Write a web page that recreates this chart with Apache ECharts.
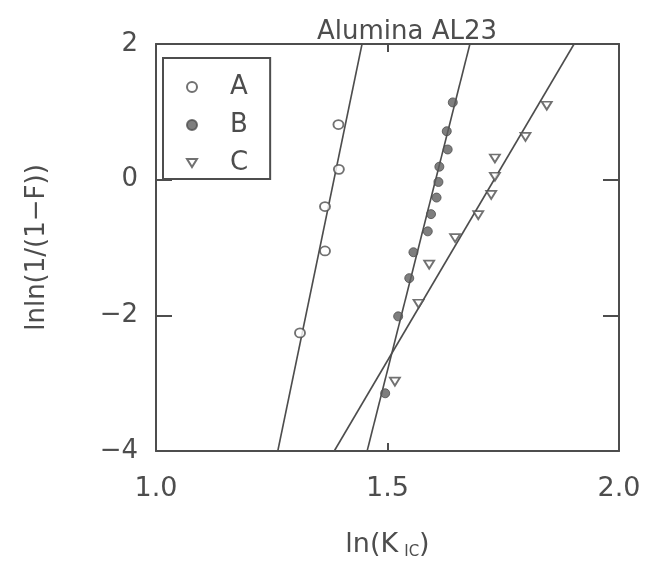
<!DOCTYPE html>
<html>
<head>
<meta charset="utf-8">
<script src="https://cdn.jsdelivr.net/npm/echarts@6/dist/echarts.min.js"></script>
<style>
html,body{margin:0;padding:0;background:#fff;}
#chart{width:645px;height:565px;}
</style>
</head>
<body>
<div id="chart"></div>
<script>
// ---- data ----
const titleText = "Alumina AL23";
const xTickValues = [1.0, 1.5, 2.0];
const yTickValues = [-4, -2, 0, 2];

const seriesA = [
  [1.394, 0.812], [1.395, 0.152], [1.365, -0.396], [1.365, -1.051], [1.311, -2.259]
];
const seriesB = [
  [1.641, 1.139], [1.628, 0.714], [1.630, 0.445], [1.612, 0.191], [1.610, -0.034],
  [1.606, -0.264], [1.594, -0.508], [1.587, -0.762], [1.556, -1.070], [1.547, -1.452],
  [1.523, -2.015], [1.495, -3.149]
];
const seriesC = [
  [1.844, 1.090], [1.798, 0.631], [1.732, 0.313], [1.732, 0.044], [1.724, -0.225],
  [1.696, -0.523], [1.646, -0.861], [1.590, -1.252], [1.567, -1.829], [1.516, -2.977]
];
const fitA = [[1.263, -4], [1.445, 2]];
const fitB = [[1.456, -4], [1.678, 2]];
const fitC = [[1.385, -4], [1.903, 2]];

// ---- chart ----
const ink = '#4d4d4d';
const font = 'DejaVu Sans';
const downTri = 'path://M0,0 L10,0 L5,8 Z';
const chart = echarts.init(document.getElementById('chart'), null, {renderer: 'canvas'});

function fmtNum(v, digits) {
  return v.toFixed(digits).replace('-', '\u2212');
}

const option = {
  backgroundColor: '#ffffff',
  animation: false,
  title: {
    text: titleText,
    left: 312,
    top: 14,
    textStyle: {fontFamily: font, fontSize: 26, fontWeight: 'normal', color: ink}
  },
  legend: {
    data: [{name: 'A'}, {name: 'B'}, {name: 'C', icon: downTri}],
    orient: 'vertical',
    left: 163,
    top: 58,
    borderColor: ink,
    borderWidth: 2,
    padding: [16, 22, 3, 23],
    itemWidth: 10,
    itemHeight: 10,
    itemGap: 12,
    textStyle: {fontFamily: font, fontSize: 26, color: ink, lineHeight: 26, padding: [0, 0, 0, 28]}
  },
  grid: {left: 156, top: 44, width: 463, height: 409, containLabel: false},
  xAxis: [{
    type: 'value', position: 'bottom', min: 1, max: 2, interval: 0.5,
    name: 'ln(K{sub|IC})', nameLocation: 'middle', nameGap: 80,
    nameTextStyle: {fontFamily: font, fontSize: 27, color: ink,
      rich: {sub: {fontFamily: font, fontSize: 15, color: ink, verticalAlign: 'bottom', padding: [0, 0, -2, 6]}}},
    axisLine: {show: true, onZero: false, lineStyle: {color: ink, width: 2}},
    axisTick: {show: true, inside: true, length: 8, lineStyle: {color: ink, width: 2}},
    axisLabel: {fontFamily: font, fontSize: 27, color: ink, margin: 24,
      formatter: v => xTickValues.some(t => Math.abs(t - v) < 1e-9) ? fmtNum(v, 1) : ''},
    splitLine: {show: false}
  }, {
    type: 'value', position: 'top', min: 1, max: 2, interval: 0.5,
    axisLine: {show: true, onZero: false, lineStyle: {color: ink, width: 2}},
    axisTick: {show: true, inside: true, length: 8, lineStyle: {color: ink, width: 2}},
    axisLabel: {show: false},
    splitLine: {show: false}
  }],
  yAxis: [{
    type: 'value', position: 'left', min: -4, max: 2, interval: 2,
    name: 'lnln(1/(1\u2212F))', nameLocation: 'middle', nameGap: 106, nameRotate: 90,
    nameTextStyle: {fontFamily: font, fontSize: 26, color: ink},
    axisLine: {show: true, onZero: false, lineStyle: {color: ink, width: 2}},
    axisTick: {show: true, inside: true, length: 16, lineStyle: {color: ink, width: 2}},
    axisLabel: {fontFamily: font, fontSize: 26, color: ink, margin: 18,
      formatter: v => yTickValues.includes(v) ? fmtNum(v, 0) : ''},
    splitLine: {show: false}
  }, {
    type: 'value', position: 'right', min: -4, max: 2, interval: 2,
    axisLine: {show: true, onZero: false, lineStyle: {color: ink, width: 2}},
    axisTick: {show: true, inside: true, length: 16, lineStyle: {color: ink, width: 2}},
    axisLabel: {show: false},
    splitLine: {show: false}
  }],
  series: [
    {name: 'fitA', type: 'line', data: fitA, showSymbol: false, silent: true, z: 1,
      lineStyle: {color: ink, width: 1.6}},
    {name: 'fitB', type: 'line', data: fitB, showSymbol: false, silent: true, z: 1,
      lineStyle: {color: ink, width: 1.6}},
    {name: 'fitC', type: 'line', data: fitC, showSymbol: false, silent: true, z: 1,
      lineStyle: {color: ink, width: 1.6}},
    {name: 'A', type: 'scatter', data: seriesA, symbol: 'circle', symbolSize: [10, 9], z: 3,
      itemStyle: {color: '#ffffff', borderColor: ink, borderWidth: 1.8}},
    {name: 'B', type: 'scatter', data: seriesB, symbol: 'circle', symbolSize: 9, z: 3,
      itemStyle: {color: '#5e5e5e', borderColor: ink, borderWidth: 1}},
    {name: 'C', type: 'scatter', data: seriesC, symbol: downTri, symbolSize: [10, 8], z: 3,
      itemStyle: {color: '#ffffff', borderColor: ink, borderWidth: 1.8}}
  ]
};
chart.setOption(option);
</script>
</body>
</html>
